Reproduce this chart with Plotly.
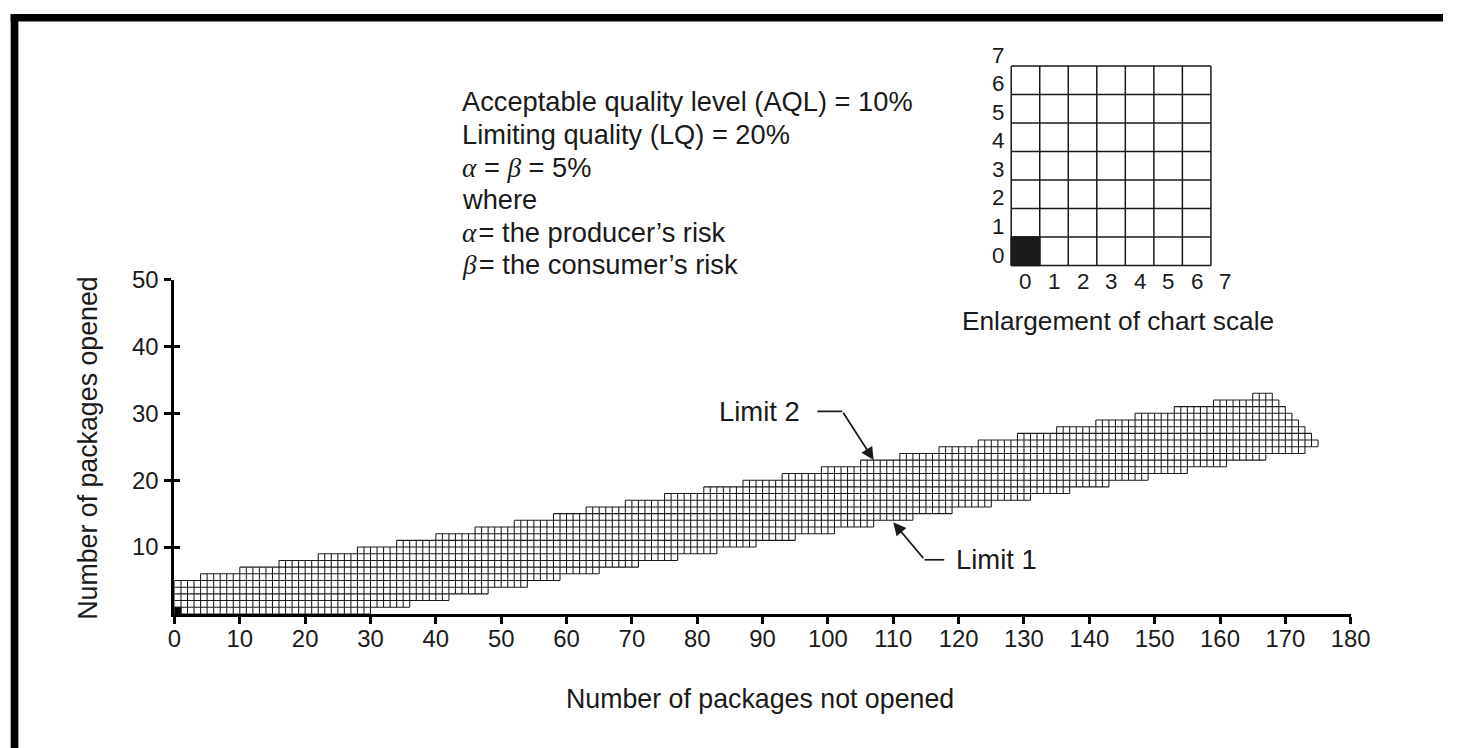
import plotly.graph_objects as go

# ---------------- data ----------------
x_ticks = [0, 10, 20, 30, 40, 50, 60, 70, 80, 90, 100, 110, 120, 130, 140, 150, 160, 170, 180]
y_ticks = [10, 20, 30, 40, 50]

n_columns = 175  # columns 0..174 (packages not opened)

# Limit 2 (upper edge of the band): column where a new height starts, and that height
upper_step_x = [0, 4, 10, 16, 22, 28, 34, 40, 46, 52, 58, 63, 69, 75, 81, 87, 93, 99,
                105, 111, 117, 123, 129, 135, 141, 147, 153, 159, 165,
                168, 169, 170, 171, 172, 173, 174]
upper_step_y = [5, 6, 7, 8, 9, 10, 11, 12, 13, 14, 15, 16, 17, 18, 19, 20, 21, 22,
                23, 24, 25, 26, 27, 28, 29, 30, 31, 32, 33,
                32, 31, 30, 29, 28, 27, 26]

# Limit 1 (lower edge of the band)
lower_step_x = [0, 30, 36, 42, 48, 54, 59, 65, 71, 77, 83, 89, 95, 101, 107, 113,
                119, 125, 131, 137, 143, 149, 155, 161, 167, 173]
lower_step_y = [0, 1, 2, 3, 4, 5, 6, 7, 8, 9, 10, 11, 12, 13, 14, 15,
                16, 17, 18, 19, 20, 21, 22, 23, 24, 25]

start_cell = [0, 0]          # filled black cell

inset_size = 7
inset_tick_labels = ["0", "1", "2", "3", "4", "5", "6", "7"]
inset_black_cell = [0, 0]

GREEK = "<span style=\"font-family:Liberation Serif\"><i>{}</i></span>"
info_lines = [
    "Acceptable quality level (AQL) = 10%",
    "Limiting quality (LQ) = 20%",
    GREEK.format("\u03b1") + " = " + GREEK.format("\u03b2") + " = 5%",
    "where",
    GREEK.format("\u03b1") + "\u200a= the producer\u2019s risk",
    GREEK.format("\u03b2") + "\u200a= the consumer\u2019s risk",
]

x_title = "Number of packages not opened"
y_title = "Number of packages opened"
inset_title = "Enlargement of chart scale"
limit2_label = "Limit 2"
limit1_label = "Limit 1"
limit2_point = [107, 23]
limit1_point = [110, 13.7]

# ---------------- build the grid ----------------
def expand(step_x, step_y, n):
    vals, k = [], 0
    for c in range(n):
        while k + 1 < len(step_x) and step_x[k + 1] <= c:
            k += 1
        vals.append(step_y[k])
    return vals

upper = expand(upper_step_x, upper_step_y, n_columns)
lower = expand(lower_step_x, lower_step_y, n_columns)

gx, gy = [], []
for b in range(n_columns + 1):
    adj = [c for c in (b - 1, b) if 0 <= c < n_columns]
    lo = min(lower[c] for c in adj)
    hi = max(upper[c] for c in adj)
    gx += [b, b, None]
    gy += [lo, hi, None]
for j in range(max(upper) + 1):
    c = 0
    while c < n_columns:
        if lower[c] <= j <= upper[c]:
            s = c
            while c < n_columns and lower[c] <= j <= upper[c]:
                c += 1
            gx += [s, c, None]
            gy += [j, j, None]
        else:
            c += 1

ix, iy = [], []
for k in range(inset_size + 1):
    ix += [k, k, None, 0, inset_size, None]
    iy += [0, inset_size, None, k, k, None]

def cell(c):
    x0, y0 = c
    return [x0, x0 + 1, x0 + 1, x0, x0], [y0, y0, y0 + 1, y0 + 1, y0]

# ---------------- layout geometry ----------------
W, H = 1463, 748
# the page is displayed slightly reduced and offset; positions below are
# target screen pixels, converted back to figure fractions
S, OX, OY = 0.983, 6.3, 12.0
FONT = "Liberation Sans, Arial, sans-serif"
INK = "#1a1a1a"

def fx(p):
    return ((p - OX) / S) / W

def fy(p):
    return 1 - ((p - OY) / S) / H

def fs(v):
    return v / S

ax_l, ax_r, ax_b, ax_t = 174, 1352, 613, 278
in_l, in_r, in_b, in_t = 1012, 1212, 264, 64
u_in = (in_r - in_l) / inset_size
pad = 0.05

def inset_px_x(v):
    return in_l + v * u_in

def inset_px_y(v):
    return in_b - v * u_in

fig = go.Figure()

fig.add_trace(go.Scatter(x=gx, y=gy, mode="lines", xaxis="x", yaxis="y3",
                         line=dict(color=INK, width=1.05), hoverinfo="skip", showlegend=False))
sx, sy = cell(start_cell)
fig.add_trace(go.Scatter(x=sx, y=sy, mode="lines", fill="toself", fillcolor="black",
                         line=dict(color="black", width=1), hoverinfo="skip", showlegend=False))

fig.add_trace(go.Scatter(x=ix, y=iy, mode="lines", xaxis="x2", yaxis="y2",
                         line=dict(color=INK, width=1.5), hoverinfo="skip", showlegend=False))
bx, by = cell(inset_black_cell)
fig.add_trace(go.Scatter(x=bx, y=by, mode="lines", fill="toself", fillcolor="#1a1a1a",
                         xaxis="x2", yaxis="y2",
                         line=dict(color=INK, width=1.5), hoverinfo="skip", showlegend=False))

annotations = []
line_y = [100, 132.5, 165.5, 198, 230.5, 263]
for t, yy in zip(info_lines, line_y):
    annotations.append(dict(text=t, xref="paper", yref="paper", x=fx(460), y=fy(yy),
                            xanchor="left", yanchor="middle", showarrow=False,
                            font=dict(family=FONT, size=fs(26.8), color=INK)))
annotations.append(dict(text=x_title, xref="paper", yref="paper", x=fx(760), y=fy(698),
                        xanchor="center", yanchor="middle", showarrow=False,
                        font=dict(family=FONT, size=fs(26.3), color=INK)))
annotations.append(dict(text=y_title, xref="paper", yref="paper", x=fx(88), y=fy(447),
                        xanchor="center", yanchor="middle", showarrow=False, textangle=-90,
                        font=dict(family=FONT, size=fs(26.3), color=INK)))
annotations.append(dict(text=inset_title, xref="paper", yref="paper", x=fx(1119), y=fy(320),
                        xanchor="center", yanchor="middle", showarrow=False,
                        font=dict(family=FONT, size=fs(25.8), color=INK)))
for k, lab in enumerate(inset_tick_labels):
    annotations.append(dict(text=lab, xref="paper", yref="paper",
                            x=fx(inset_px_x(k + 0.5)), y=fy(inset_px_y(-0.56)),
                            xanchor="center", yanchor="middle", showarrow=False,
                            font=dict(family=FONT, size=fs(22), color=INK)))
    annotations.append(dict(text=lab, xref="paper", yref="paper",
                            x=fx(inset_px_x(-0.45)), y=fy(inset_px_y(k + 0.37)),
                            xanchor="center", yanchor="middle", showarrow=False,
                            font=dict(family=FONT, size=fs(22), color=INK)))

# Limit labels with bent arrows
annotations.append(dict(text=limit2_label, xref="x", yref="y", x=96.1, y=30.3,
                        xanchor="right", yanchor="middle", showarrow=False,
                        font=dict(family=FONT, size=fs(27), color=INK)))
annotations.append(dict(text="", xref="x", yref="y", x=limit2_point[0], y=limit2_point[1],
                        axref="x", ayref="y", ax=102.2, ay=30.3, showarrow=True,
                        arrowhead=2, arrowsize=1.5, arrowwidth=1.7, arrowcolor=INK))
annotations.append(dict(text=limit1_label, xref="x", yref="y", x=119.3, y=8.1,
                        xanchor="left", yanchor="middle", showarrow=False,
                        font=dict(family=FONT, size=fs(27), color=INK)))
annotations.append(dict(text="", xref="x", yref="y", x=limit1_point[0], y=limit1_point[1],
                        axref="x", ayref="y", ax=114.8, ay=8.1, showarrow=True,
                        arrowhead=2, arrowsize=1.5, arrowwidth=1.7, arrowcolor=INK))

shapes = [
    dict(type="line", xref="x", yref="y", x0=98.4, x1=102.2, y0=30.3, y1=30.3,
         line=dict(color=INK, width=1.7)),
    dict(type="line", xref="x", yref="y", x0=114.8, x1=117.8, y0=8.1, y1=8.1,
         line=dict(color=INK, width=1.7)),
    # page frame (top and left bars)
    dict(type="rect", xref="paper", yref="paper", x0=fx(10), x1=1.0, y0=fy(19.5), y1=1.0,
         fillcolor="black", line=dict(width=0)),
    dict(type="rect", xref="paper", yref="paper", x0=fx(10), x1=fx(17.7), y0=0, y1=1.0,
         fillcolor="black", line=dict(width=0)),
]

tickfont = dict(family=FONT, size=fs(23.5), color=INK)

fig.update_layout(
    width=W, height=H,
    margin=dict(l=0, r=0, t=0, b=0),
    paper_bgcolor="white", plot_bgcolor="white",
    showlegend=False,
    font=dict(family=FONT, color=INK),
    annotations=annotations,
    shapes=shapes,
    xaxis=dict(domain=[fx(ax_l), fx(ax_r)], range=[0, 180], tickvals=x_ticks,
               ticktext=[str(v) for v in x_ticks], ticks="outside", ticklen=7, tickwidth=2.6,
               tickcolor="black", showline=True, linewidth=3, linecolor="black",
               showgrid=False, zeroline=False, tickfont=tickfont,
               ticklabelstandoff=-6, anchor="y", fixedrange=True),
    yaxis=dict(domain=[fy(ax_b), fy(ax_t)], range=[0, 50], tickvals=y_ticks,
               ticktext=[str(v) for v in y_ticks], ticks="outside", ticklen=7, tickwidth=2.6,
               tickcolor="black", showline=True, linewidth=3, linecolor="black",
               showgrid=False, zeroline=False, tickfont=tickfont,
               ticklabelstandoff=1, anchor="x", fixedrange=True),
    yaxis3=dict(domain=[fy(ax_b), fy(ax_t)], range=[0, 50], overlaying="y", anchor="x",
                side="left", tickvals=y_ticks, ticks="inside", ticklen=6, tickwidth=2.6,
                tickcolor="black", showticklabels=False, showline=False, showgrid=False,
                zeroline=False, fixedrange=True),
    xaxis2=dict(domain=[fx(in_l - pad * u_in), fx(in_r + pad * u_in)],
                range=[-pad, inset_size + pad], visible=False, anchor="y2", fixedrange=True),
    yaxis2=dict(domain=[fy(in_b + pad * u_in), fy(in_t - pad * u_in)],
                range=[-pad, inset_size + pad], visible=False, anchor="x2", fixedrange=True),
)

fig.write_html("out.html", config={"displayModeBar": False},
               post_script="document.body.style.margin='0';document.body.style.overflow='hidden';")
